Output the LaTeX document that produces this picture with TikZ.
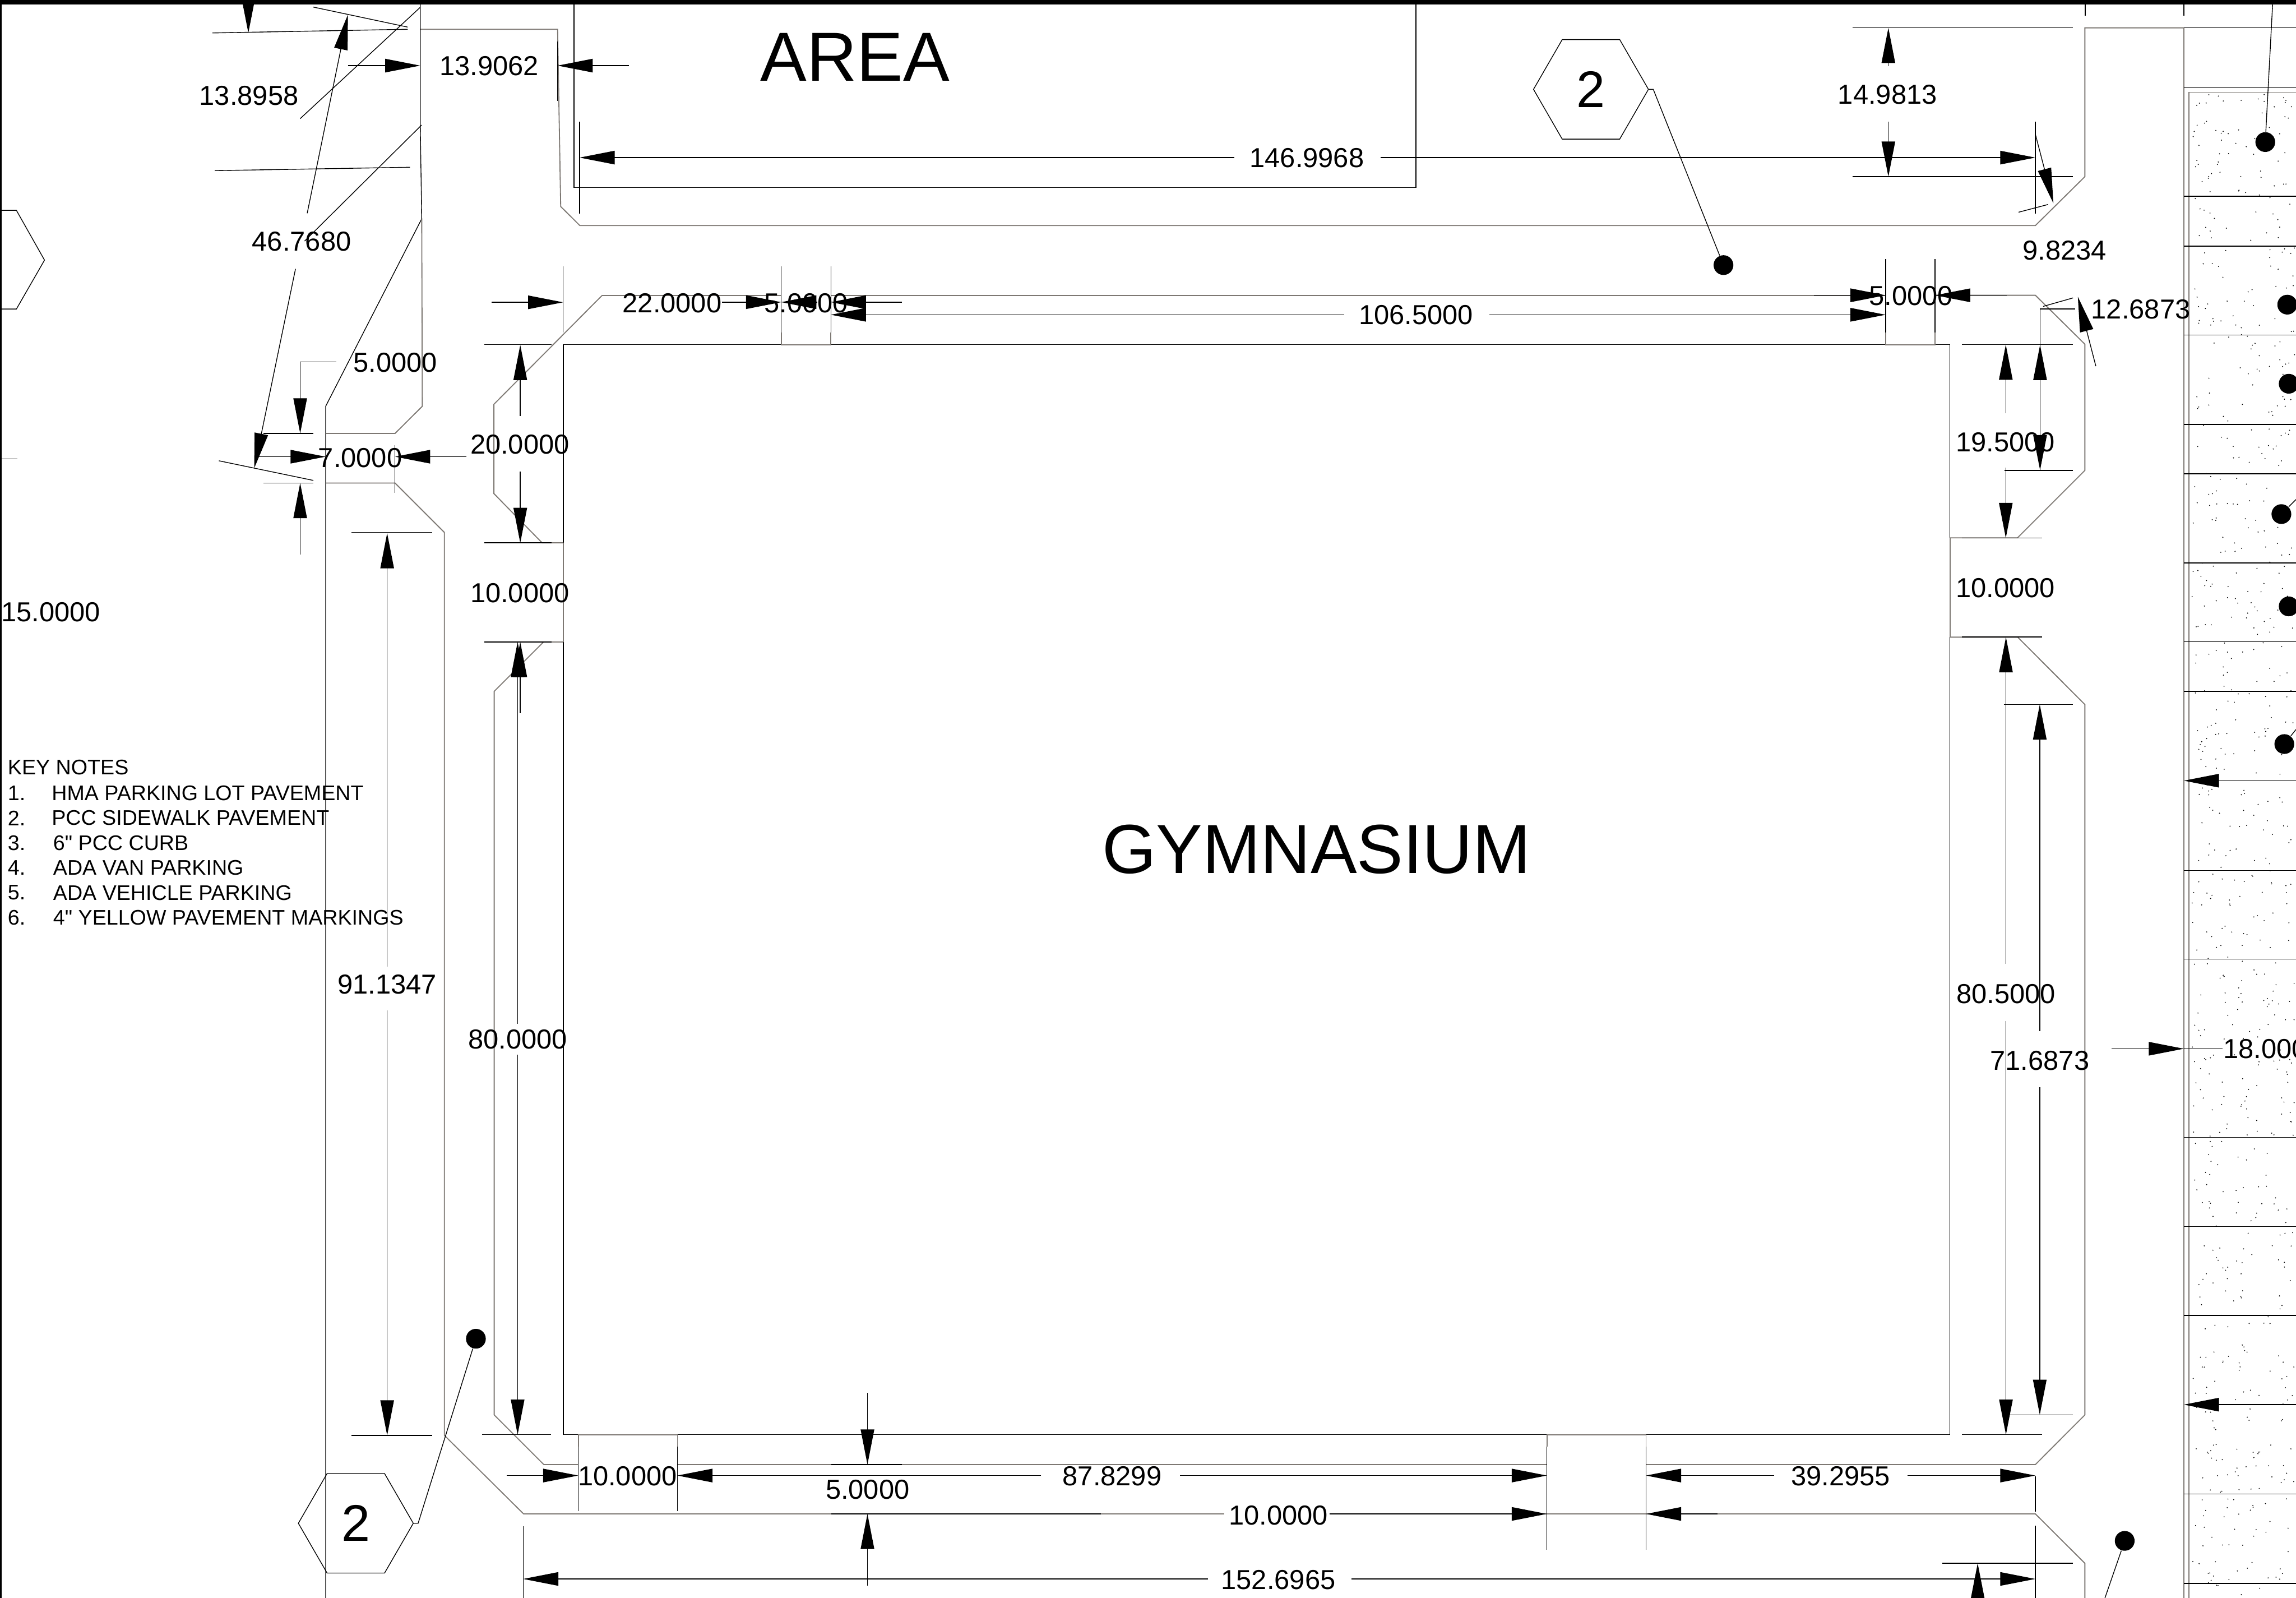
\documentclass[tikz,border=0pt]{standalone}
\usepackage{fontspec}
\setmainfont{Liberation Sans}
\newfontfamily\keyfont{Liberation Sans}
\usetikzlibrary{arrows.meta, positioning, shapes.geometric}

\definecolor{curbgray}{RGB}{125,120,115}

\begin{document}
\begin{tikzpicture}[
      x=0.02cm, y=-0.02cm,
      thinline/.style={draw=black, line width=0.3pt},
      curbline/.style={draw=curbgray, line width=0.4pt},
      dimline/.style={thinline, -{Triangle[length=0.48cm, width=0.185cm]}},
      dimlabel/.style={font=\fontsize{10.65}{12}\selectfont, inner sep=0pt},
      bigtitle/.style={font=\fontsize{27}{30}\selectfont, inner sep=0pt},
      keynote/.style={font=\keyfont\fontsize{8.2}{10}\selectfont, inner sep=0pt, anchor=west},
      hexmark/.style={draw=black, line width=0.3pt, regular polygon, regular polygon sides=6, shape border rotate=0, minimum size=1.57cm, inner sep=0pt, font=\fontsize{20}{22}\selectfont},
      dotmark/.style={circle, fill=black, minimum size=0.27cm, inner sep=0pt}
    ]
      \useasboundingbox (0,0) rectangle (1568,1090.7);
      \clip (0,0) rectangle (1568,1090.7);

      % Sheet border
      \fill[black] (0,0) rectangle (1568,3);
      \draw[black, line width=0.8pt] (0.4,0) -- (0.4,1091);

      % Building
      \draw[thinline] (384.7,370.7) -- (384.7,235.3) -- (1331.7,235.3) -- (1331.7,367);
      \draw[thinline] (1331.7,435) -- (1331.7,979.5) -- (384.7,979.5) -- (384.7,438.3);
      \draw[curbline] (384.7,370.7) -- (384.7,438.3);
      \draw[curbline] (1331.7,367) -- (1331.7,435);

      % Area building
      \draw[thinline] (392,3) -- (392,128) -- (967,128) -- (967,3);

      % Sidewalk around the building
      \draw[curbline] (411.3,201.6) -- (337.3,276) -- (337.3,337) -- (370.2,370.6) -- (384.7,370.6);
      \draw[curbline] (384.7,438.3) -- (371.2,438.3) -- (337.5,472) -- (337.5,966) -- (371.4,999.9) -- (394.9,999.9);
      \draw[curbline] (462.6,999.9) -- (1056.4,999.9);
      \draw[curbline] (1124.1,999.9) -- (1390,999.9) -- (1423.8,966) -- (1423.8,481) -- (1377.9,435) -- (1331.7,435);
      \draw[curbline] (1331.7,367.2) -- (1377.8,367.2) -- (1423.8,321.2) -- (1423.8,235) -- (1390,201.6) -- (1321.5,201.6);
      \draw[curbline] (1287.7,201.6) -- (567.4,201.6);
      \draw[curbline] (533.5,201.6) -- (411.3,201.6);

      % Door openings
      \draw[curbline] (533.5,227) -- (533.5,235.3) -- (567.4,235.3) -- (567.4,227);
      \draw[curbline] (1287.7,227) -- (1287.7,235.3) -- (1321.5,235.3) -- (1321.5,227);
      \draw[curbline] (394.9,987.7) -- (394.9,979.5) -- (462.6,979.5) -- (462.6,987.7);
      \draw[curbline] (1056.4,987.7) -- (1056.4,979.5) -- (1124.1,979.5) -- (1124.1,987.7);

      % Parking lot edges
      \draw[curbline] (287,20) -- (380.8,20) -- (382.9,141) -- (396,154) -- (1390,154) -- (1423.8,120.6) -- (1423.8,19) -- (1491.4,19);
      \draw[thinline] (1491.4,19) -- (1568,19);
      \draw[thinline] (287,3) -- (287,85) -- (288,149.4) -- (222.4,277.4) -- (222.4,1091);
      \draw[curbline] (288,149.4) -- (288.4,277.4) -- (269.8,295.9) -- (222.4,295.9);
      \draw[curbline] (222.4,329.8) -- (269.8,329.8) -- (303.5,363.5) -- (303.5,980) -- (357.6,1033.6) -- (836,1033.6);
      \draw[curbline] (908,1033.6) -- (1390,1033.6) -- (1423.8,1067.3) -- (1423.8,1091);
      \draw[thinline] (567.7,999.9) -- (616,999.9);
      \draw[thinline] (567.7,1033.6) -- (752,1033.6);
      \draw[thinline] (1424,3) -- (1424,10.6);
      \draw[thinline] (1491.4,3) -- (1491.4,10.6);

      % Left hexagon piece and stub
      \draw[thinline] (0.4,143.6) -- (11.2,143.6) -- (30.4,177.6) -- (11.2,211) -- (0.4,211);
      \draw[thinline] (0.4,313.3) -- (12,313.3);

      % Sidewalk slabs
      \draw[curbline] (1491.4,19) -- (1491.4,1091);
      \draw[curbline] (1495,1091) -- (1495,63) -- (1568,63);
      \draw[thinline] (1491.4,59.8) -- (1568,59.8);
      \foreach \slaby in {134,168,228.7,289.8,323.5,384.4,438.2,472,594.2,654.8,776.6,837.5,898,1020.1,1081} {
        \draw[thinline] (1491.4,\slaby) -- (1568,\slaby);
      }
      \pgfmathsetseed{4242}
      \foreach \i in {1,...,750} {
        \pgfmathsetmacro{\specx}{1497+70*rnd}
        \pgfmathsetmacro{\specy}{64+1026*rnd}
        \fill[black] (\specx,\specy) circle (0.4);
      }

      % Extension lines
      \foreach \ax/\ay/\bx/\by in {
          145/22.5/278.4/20, 213.8/4.8/278.4/18.5, 287/5/205/81, 287.9/85.4/208/164.6,
          146.7/116.5/280/114.2, 380.8/28.4/380.8/68.9, 395.8/83/395.8/146, 1390/83/1390/146,
          1378.5/144.9/1398.7/139.6, 1265/19/1415.5/19, 1265/120.6/1415.5/120.6,
          180/295.9/214/295.9, 180/329.8/214/329.8, 149.5/314.6/214/328, 269.8/304/269.8/336.4,
          384.6/182/384.6/227, 533.5/182/533.5/227, 567.4/182/567.4/227, 1287.7/177/1287.7/227, 1321.5/177/1321.5/227,
          1395.3/209.2/1415.7/203.4, 1339.8/235.3/1415.5/235.3, 1369/321.2/1415.5/321.2, 1339.8/367.3/1394.6/367.3,
          1339.8/434.9/1394.6/434.9, 1368.4/481/1415.5/481, 1371.8/965.9/1415.5/965.9, 1339.9/979.5/1394.4/979.5,
          330.6/235.3/376.5/235.3, 330.6/370.6/376.5/370.6, 330.6/438.3/376.5/438.3, 329.2/979.5/376.3/979.5,
          240/363.5/295/363.5, 240/980/295.3/980,
          394.9/987.7/394.9/1031.8, 462.6/987.7/462.6/1031.8, 1056.4/987.7/1056.4/1058, 1124.1/987.7/1124.1/1058,
          357.3/1042/357.3/1091, 1390/1008/1390/1032, 1390/1041.7/1390/1091, 1326.3/1067.3/1415.5/1067.3,
          493/206.3/507/206.3, 1491.4/716/1518/716} {
        \draw[thinline] (\ax,\ay) -- (\bx,\by);
      }

      % Dimension arrows
      \foreach \ax/\ay/\bx/\by in {
          169.6/-3/169.6/22.5, 209.8/145.6/237.6/10, 201.8/183.6/173.6/319.7,
          237.6/44.8/287/44.8, 429.6/44.8/380.8/44.8,
          843/107.6/395.8/107.6, 943/107.6/1390/107.6, 1390/91.7/1402.3/138.8,
          1289.6/45/1289.6/19, 1289.6/83/1289.6/120.6,
          205/378.7/205/329.8, 175/311.8/222.4/311.8, 318.6/311.8/269.8/311.8,
          335.8/206.4/384.6/206.4, 507/206.3/533.5/206.3, 616/206.3/567.4/206.3, 558/206.3/533.5/206.3,
          918/214.9/567.4/214.9, 1017/214.9/1287.7/214.9,
          1238.7/201.6/1287.7/201.6, 1370.3/201.6/1321.5/201.6,
          1431.3/250/1419/202.6, 1369.8/282.2/1369.8/235.3, 1369.8/319.2/1369.8/367.3,
          1393.2/321/1393.2/235.5, 1393.2/235.5/1393.2/321,
          1369.9/658/1369.9/435, 1369.9/697/1369.9/979.5, 1393/703.8/1393/481, 1393/742.4/1393/965.9,
          355.3/284/355.3/235.5, 355.3/322/355.3/370.7, 355.3/487/355.3/438.3,
          353.5/699/353.5/438.3, 353.5/720/353.5/979.5,
          264.4/660/264.4/364, 264.4/690/264.4/980,
          346/1007.4/394.9/1007.4, 711/1007.4/462.6/1007.4, 806/1007.4/1056.4/1007.4,
          1211.6/1007.4/1124.1/1007.4, 1302.6/1007.4/1390/1007.4,
          908/1033.6/1056.4/1033.6, 1173/1033.6/1124.1/1033.6,
          592.4/951/592.4/999.9, 592.4/1082.4/592.4/1033.6,
          825/1078/357.3/1078, 923/1078/1390/1078, 1350.6/1110/1350.6/1067.3,
          1568/533/1491.4/533, 1442/716/1491.4/716, 1568/959/1491.4/959} {
        \draw[dimline] (\ax,\ay) -- (\bx,\by);
      }

      % Bent dimension leaders
      \draw[dimline] (229.6,247) -- (205,247) -- (205,295.9);
      \draw[thinline] (1417,211) -- (1393.2,211) -- (1393.2,235.5);

      % Titles
      \node[bigtitle] (area) at (584,39) {AREA};
      \node[bigtitle] (gym) at (899,580) {GYMNASIUM};

      % Dimension labels
      \node[dimlabel] (dimA) at (170,65.5) {13.8958};
      \node[dimlabel] (dimB) at (334,45) {13.9062};
      \node[dimlabel] (dimC) at (206,165) {46.7680};
      \node[dimlabel] (dimD) at (270,247.5) {5.0000};
      \node[dimlabel] (dimE) at (246,312.5) {7.0000};
      \node[dimlabel] (dimF) at (355,303.5) {20.0000};
      \node[dimlabel] (dimG) at (355,405) {10.0000};
      \node[dimlabel] (dimH) at (353.5,709.5) {80.0000};
      \node[dimlabel] (dimI) at (264.4,672) {91.1347};
      \node[dimlabel, anchor=west] (dimJ) at (0.5,418) {15.0000};
      \node[dimlabel] (dimK) at (459,207) {22.0000};
      \node[dimlabel] (dimL) at (550.5,207) {5.0000};
      \node[dimlabel] (dimM) at (967,215) {106.5000};
      \node[dimlabel] (dimN) at (1305,202) {5.0000};
      \node[dimlabel] (dimO) at (892.5,108) {146.9968};
      \node[dimlabel] (dimP) at (1289,64.5) {14.9813};
      \node[dimlabel] (dimQ) at (1410,171) {9.8234};
      \node[dimlabel] (dimR) at (1462,211) {12.6873};
      \node[dimlabel] (dimS) at (1369.5,302) {19.5000};
      \node[dimlabel] (dimT) at (1369.5,401.5) {10.0000};
      \node[dimlabel] (dimU) at (1370,678.5) {80.5000};
      \node[dimlabel] (dimV) at (1393,724) {71.6873};
      \node[dimlabel, anchor=west] (dimW) at (1518,716) {18.0000};
      \node[dimlabel] (dimX) at (428.5,1008) {10.0000};
      \node[dimlabel] (dimY) at (759.5,1008) {87.8299};
      \node[dimlabel] (dimZ) at (1257,1008) {39.2955};
      \node[dimlabel] (dimAA) at (592.5,1017) {5.0000};
      \node[dimlabel] (dimAB) at (873,1034.5) {10.0000};
      \node[dimlabel] (dimAC) at (873,1078.5) {152.6965};

      % Key notes
      \node[keynote] (keyhead) at (5,524) {KEY NOTES};
      \node[keynote] (keyA) at (5,541.5) {1.};
      \node[keynote] (keyAtxt) at (35,541.5) {HMA PARKING LOT PAVEMENT};
      \node[keynote] (keyB) at (5,558.5) {2.};
      \node[keynote] (keyBtxt) at (35,558.5) {PCC SIDEWALK PAVEMENT};
      \node[keynote] (keyC) at (5,575.5) {3.};
      \node[keynote] (keyCtxt) at (36,575.5) {6" PCC CURB};
      \node[keynote] (keyD) at (5,592.5) {4.};
      \node[keynote] (keyDtxt) at (36,592.5) {ADA VAN PARKING};
      \node[keynote] (keyE) at (5,609.5) {5.};
      \node[keynote] (keyEtxt) at (36,609.5) {ADA VEHICLE PARKING};
      \node[keynote] (keyF) at (5,626.5) {6.};
      \node[keynote] (keyFtxt) at (36,626.5) {4" YELLOW PAVEMENT MARKINGS};

      % Callouts
      \node[hexmark] (hexTop) at (1086.5,61) {2};
      \node[hexmark] (hexLow) at (243,1040) {2};
      \node[dotmark] (dotTop) at (1177,181) {};
      \node[dotmark] (dotLow) at (325,914) {};
      \node[dotmark] (dotA) at (1547,97) {};
      \node[dotmark] (dotB) at (1562,208) {};
      \node[dotmark] (dotC) at (1563,262) {};
      \node[dotmark] (dotD) at (1558,351) {};
      \node[dotmark] (dotE) at (1563,414) {};
      \node[dotmark] (dotF) at (1560,508) {};
      \node[dotmark] (dotG) at (1451,1052) {};
      \coordinate (freeA) at (1552,3);
      \coordinate (freeD) at (1568,341);
      \coordinate (freeF) at (1568,498);
      \coordinate (freeG) at (1437.5,1091);
      \draw[thinline] (hexTop.east) -- ++(3,0) -- (dotTop);
      \draw[thinline] (hexLow.east) -- ++(3,0) -- (dotLow);
      \draw[thinline] (dotA) -- (freeA);
      \draw[thinline] (dotD) -- (freeD);
      \draw[thinline] (dotF) -- (freeF);
      \draw[thinline] (dotG) -- (freeG);
    \end{tikzpicture}
\end{document}
